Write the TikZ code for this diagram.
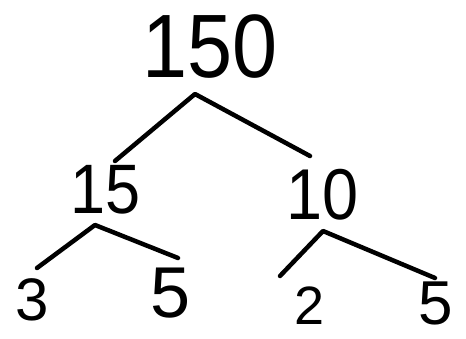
\documentclass[tikz,border=0pt]{standalone}
\usepackage{fontspec}
\setmainfont{Liberation Sans}
\begin{document}
\begin{tikzpicture}[x=1pt,y=-1pt,
  num/.style={inner sep=0pt,font=\fontsize{#1}{#1}\selectfont},
  branch/.style={line width=4.5pt,line cap=round,line join=round}]
\useasboundingbox (0,0) rectangle (466,338);
\node[num=90,xscale=0.9] (n150) at (210,47) {150};
\node[num=70,xscale=0.9] (n15) at (106,190) {15};
\node[num=72,xscale=0.9] (n10) at (323,195) {10};
\node[num=60] (n3) at (32,300) {3};
\node[num=72] (n5a) at (171,293) {5};
\node[num=54] (n2) at (310,306) {2};
\node[num=62] (n5b) at (436,303) {5};
\coordinate (p150) at (195,94);
\coordinate (p15l) at (115,161);
\coordinate (p10r) at (310,156);
\coordinate (p15) at (95,225);
\coordinate (p3) at (37,268);
\coordinate (p5a) at (178,258);
\coordinate (p10) at (323,231);
\coordinate (p2) at (280,276);
\coordinate (p5b) at (435,278);
\draw[branch] (p15l) -- (p150) -- (p10r);
\draw[branch] (p3) -- (p15) -- (p5a);
\draw[branch] (p2) -- (p10) -- (p5b);
\end{tikzpicture}
\end{document}
